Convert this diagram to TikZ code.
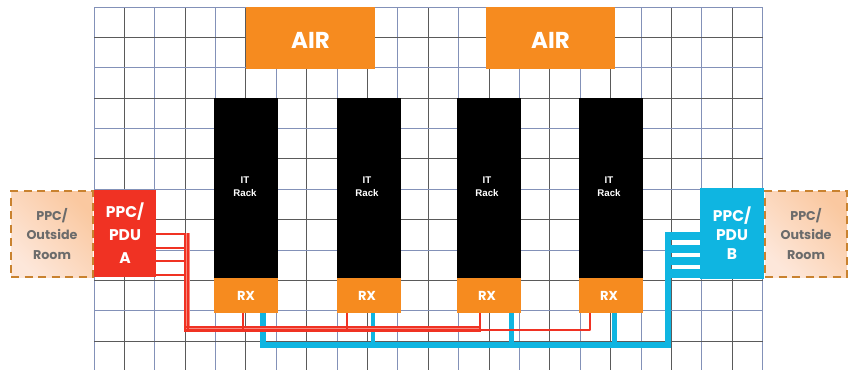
\documentclass[tikz,border=0pt]{standalone}
\usepackage{fontspec}
\setmainfont{Liberation Sans}
\newfontfamily\popp{Poppins}
\usetikzlibrary{calc}
\definecolor{gridblue}{HTML}{8391B8}
\definecolor{gridgray}{HTML}{5A5A5A}
\definecolor{airorange}{HTML}{F68B1F}
\definecolor{pdured}{HTML}{F03223}
\definecolor{pdublue}{HTML}{0FB5E1}
\definecolor{dashorange}{HTML}{C9822F}
\definecolor{lightred}{HTML}{F58A80}
\definecolor{outa}{HTML}{FAC8A0}
\definecolor{outz}{HTML}{FDE7DA}
\tikzset{
  box/.style={inner sep=0pt,outer sep=0pt,align=center,text=white},
  airbox/.style={box,fill=airorange,minimum width=129pt,minimum height=62pt,text height=20pt,text depth=0pt,font=\popp\bfseries\fontsize{23}{26}\selectfont},
  rackbox/.style={box,fill=black,minimum width=64pt,minimum height=180pt},
  racklabel/.style={font=\bfseries\fontsize{9.7}{13}\selectfont,text=white,align=center,inner sep=0pt},
  rxbox/.style={box,fill=airorange,minimum width=64pt,minimum height=35pt,font=\popp\bfseries\fontsize{13}{15}\selectfont},
  pdubox/.style={box,font=\popp\bfseries\fontsize{15.5}{21}\selectfont},
  outbox/.style={box,draw=dashorange,line width=2.5pt,dash pattern=on 8pt off 5.5pt,left color=outa,right color=outz,shading angle=-45,
    minimum width=82pt,minimum height=86pt,text=black!58,font=\popp\bfseries\fontsize{12.7}{19.5}\selectfont},
  redline/.style={draw=pdured,line width=2.6pt},
  bluebar/.style={draw=pdublue,line width=5.5pt},
  bluedrop/.style={draw=pdublue,line width=4.5pt},
  grida/.style={draw=gridblue,line width=1.3pt},
  gridb/.style={draw=gridgray,line width=1.3pt},
}
\begin{document}
\begin{tikzpicture}[x=1pt,y=-1pt]
\useasboundingbox (0,0) rectangle (852,370);
\fill[white] (0,0) rectangle (852,370);
% grid
\foreach \k in {0,2,...,22} \draw[grida] ({floor(94+30.4*\k)+.5},7) -- ({floor(94+30.4*\k)+.5},370);
\foreach \k in {1,3,...,21} \draw[gridb] ({floor(94+30.4*\k)+.5},7) -- ({floor(94+30.4*\k)+.5},370);
\foreach \k in {0,2,...,10} \draw[grida] (94,{floor(7+30.4*\k)+.5}) -- (763,{floor(7+30.4*\k)+.5});
\foreach \k in {1,3,...,11} \draw[gridb] (94,{floor(7+30.4*\k)+.5}) -- (763,{floor(7+30.4*\k)+.5});
% nodes
\node[airbox] (air1) at (310.5,38) {AIR};
\node[airbox] (air2) at (550.5,38) {AIR};
\node[rackbox] (rack1) at (246,188) {};
\node[rackbox] (rack2) at (369,188) {};
\node[rackbox] (rack3) at (489,188) {};
\node[rackbox] (rack4) at (611,188) {};
\node[racklabel] (lab1) at ($(rack1.north)+(-1,88.5)$) {IT\\Rack};
\foreach \n in {2,3,4} \node[racklabel] (lab\n) at ($(rack\n.north)+(-2,88.5)$) {IT\\Rack};
\node[rxbox] (rx1) at (246,295.5) {RX};
\node[rxbox] (rx2) at (369,295.5) {\hspace*{-4pt}RX};
\node[rxbox] (rx3) at (489,295.5) {\hspace*{-4pt}RX};
\node[rxbox] (rx4) at (611,295.5) {\hspace*{-4pt}RX};
\coordinate (redbusend) at (480,328.7);
\coordinate (redfar) at (590,330);
\coordinate (bluecorner) at (668,345);
\coordinate (bluestart) at (263,345);
% blue connectors
\foreach \y/\w in {236/7.5,249/7.5,261/7.5,273.5/8.5} \draw[pdublue,line width=\w pt] (665.2,\y) -- (702,\y);
\draw[bluebar] (bluecorner) -- (668,232.3);
\draw[bluebar] (bluestart |- rx1.south) -- ++(0,32) -- (670.5,345);
\draw[bluedrop] (373,313) -- (373,345);
\draw[bluedrop] (511.7,313) -- (511.7,345);
\draw[bluedrop] (614.5,313) -- (614.5,345);
% red connectors
\foreach \y in {234,248,261,275} \draw[redline] (155,\y) -- (188,\y);
\draw[lightred,line width=6pt] (186.5,328.7) -- (186.5,233);
\draw[lightred,line width=6pt] (186.5,328.7) -- (redbusend);
\draw[redline] (185,233) -- (185,331);
\draw[redline] (188,233) -- (188,331);
\draw[redline] (184,326.8) -- (481,326.8);
\draw[redline] (184,330.6) -- (481,330.6);
\draw[redline] (243,313) -- (243,330);
\draw[redline] (347,313) -- (347,330);
\draw[redline] (480,313) -- (480,330);
\draw[redline,line join=round] (480,330) -- (redfar) -- (590,313);
% side boxes
\node[pdubox,fill=pdured,minimum width=62pt,minimum height=87pt,font=\popp\bfseries\fontsize{15.5}{23}\selectfont] (pdua) at (125,233.5) {PPC/\\PDU\\A};
\node[pdubox,fill=pdublue,minimum width=64pt,minimum height=91pt,font=\popp\bfseries\fontsize{15.5}{19}\selectfont] (pdub) at (732,233.5) {PPC/\\PDU\\B};
\node[outbox] (outa) at (52,234) {PPC/\\Outside\\Room};
\node[outbox] (outb) at (806,234) {PPC/\\Outside\\Room};
\end{tikzpicture}
\end{document}
